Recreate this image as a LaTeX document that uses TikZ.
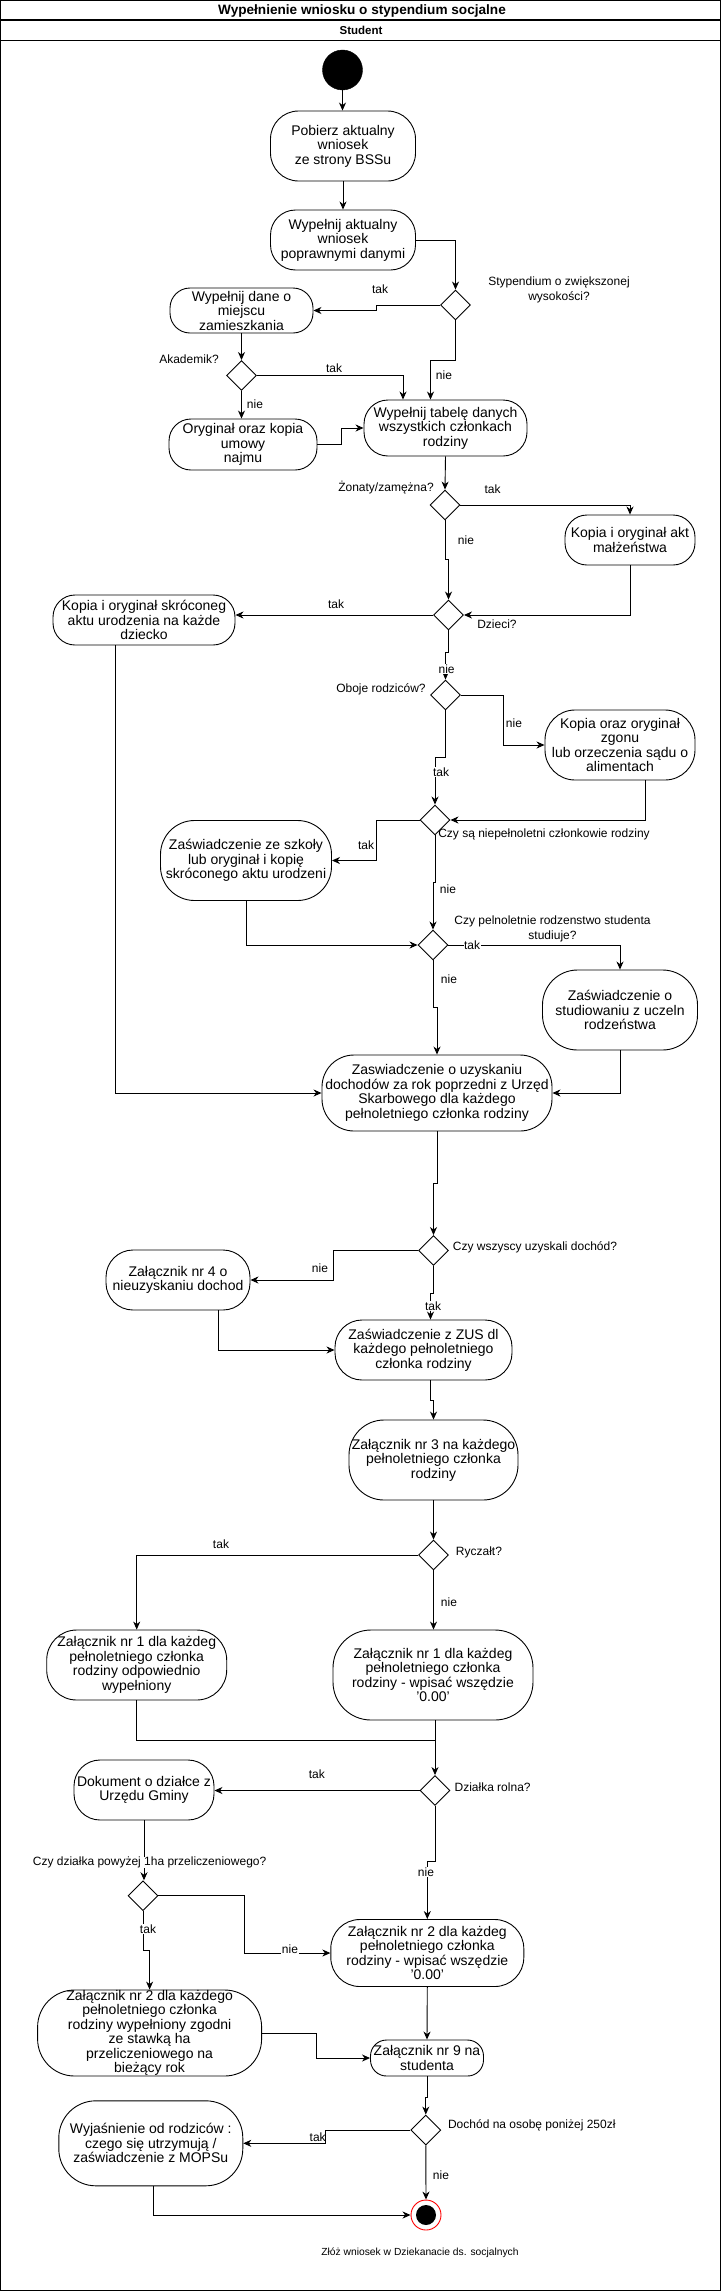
\documentclass[tikz,border=0pt]{standalone}
\usepackage{fontspec}
\setmainfont{Liberation Sans}
\usetikzlibrary{shapes.geometric,arrows.meta}
\begin{document}
\begin{tikzpicture}[x=1pt,y=-1pt,
  act/.style={draw, line width=0.9pt, align=center, inner sep=0pt, rounded corners=#1, font=\fontsize{14}{14.5}\selectfont},
  dec/.style={diamond, draw, line width=0.9pt, minimum width=30pt, minimum height=30pt, inner sep=0pt, aspect=1},
  flow/.style={draw, line width=0.9pt, rounded corners=0pt, -{Stealth[length=8pt,width=7pt,inset=2.5pt]}},
  seg/.style={draw, line width=0.9pt},
  lbl/.style={font=\fontsize{12}{15}\selectfont, inner sep=0.5pt, align=center},
  lblw/.style={lbl, fill=white},
  hdr/.style={font=\bfseries\fontsize{13.6}{15}\selectfont, inner sep=0pt}
]
\useasboundingbox (0,0) rectangle (722,2291);
\fill[white] (0,0) rectangle (722,2291);
% frame
\draw[line width=1.3pt] (0.65,0.65) rectangle (720.5,2290.3);
\draw[line width=1.1pt] (0.65,20) -- (720.5,20);
\draw[line width=1.1pt] (0.65,40.5) -- (720.5,40.5);
\node[hdr] (title) at (362,10.5) {Wypełnienie wniosku o stypendium socjalne};
\node[hdr, font=\bfseries\fontsize{11.5}{13}\selectfont] (lane) at (361,30.5) {Student};

% start / end
\node[circle, fill=black, draw=black, minimum size=40pt, inner sep=0pt] (start) at (342.5,70) {};
\node[circle, fill=white, draw=red, line width=0.9pt, minimum size=30pt, inner sep=0pt] (end) at (426,2215) {};
\node[circle, fill=black, minimum size=20pt, inner sep=0pt] (endin) at (426,2215) {};

% activities
\node[act=28pt, minimum width=145pt, minimum height=70pt] (n1) at (343,146) {Pobierz aktualny\\wniosek\\ze strony BSSu};
\node[act=25pt, minimum width=145pt, minimum height=60pt] (n2) at (343,240) {Wypełnij aktualny\\wniosek\\poprawnymi danymi};
\node[act=20pt, minimum width=143pt, minimum height=45pt] (n3) at (241.5,310.5) {Wypełnij dane o\\miejscu\\zamieszkania};
\node[act=22pt, minimum width=148pt, minimum height=51pt] (n4) at (243,444.5) {Oryginał oraz kopia\\umowy\\najmu};
\node[act=24pt, minimum width=163pt, minimum height=56pt] (n5) at (445.5,428) {Wypełnij tabelę danych\\wszystkich członkach\\rodziny};
\node[act=22pt, minimum width=130pt, minimum height=50pt] (n6) at (630,540) {Kopia i oryginał akt\\małżeństwa};
\node[act=22pt, minimum width=182pt, minimum height=50pt] (n7) at (144,620) {Kopia i oryginał skróconeg\\aktu urodzenia na każde\\dziecko};
\node[act=30pt, minimum width=150pt, minimum height=70pt] (n8) at (620,745) {Kopia oraz oryginał\\zgonu\\lub orzeczenia sądu o\\alimentach};
\node[act=34pt, minimum width=171pt, minimum height=80pt] (n9) at (246,860.5) {Zaświadczenie ze szkoły\\lub oryginał i kopię\\skróconego aktu urodzeni};
\node[act=35pt, minimum width=155pt, minimum height=80pt] (n10) at (620,1010) {Zaświadczenie o\\studiowaniu z uczeln\\rodzeństwa};
\node[act=32pt, minimum width=230pt, minimum height=76pt] (n11) at (437,1093) {Zaswiadczenie o uzyskaniu\\dochodów za rok poprzedni z Urzęd\\Skarbowego dla każdego\\pełnoletniego członka rodziny};
\node[act=27pt, minimum width=144pt, minimum height=60pt] (n12) at (178,1280) {Załącznik nr 4 o\\nieuzyskaniu dochod};
\node[act=27pt, minimum width=177pt, minimum height=60pt] (n13) at (423.5,1350) {Zaświadczenie z ZUS dl\\każdego pełnoletniego\\członka rodziny};
\node[act=35pt, minimum width=169pt, minimum height=80pt] (n14) at (433.5,1460) {Załącznik nr 3 na każdego\\pełnoletniego członka\\rodziny};
\node[act=30pt, minimum width=180pt, minimum height=70pt] (n15) at (136.7,1665) {Załącznik nr 1 dla każdeg\\pełnoletniego członka\\rodziny odpowiednio\\wypełniony};
\node[act=38pt, minimum width=200pt, minimum height=90pt] (n16) at (433,1675) {Załącznik nr 1 dla każdeg\\pełnoletniego członka\\rodziny - wpisać wszędzie\\'0.00'};
\node[act=26pt, minimum width=140pt, minimum height=60pt] (n17) at (144,1790) {Dokument o działce z\\Urzędu Gminy};
\node[act=29pt, minimum width=193pt, minimum height=67pt] (n18) at (427.3,1953) {Załącznik nr 2 dla każdeg\\pełnoletniego członka\\rodziny - wpisać wszędzie\\'0.00'};
\node[act=37pt, minimum width=224pt, minimum height=86pt] (n19) at (149.6,2033) {Załącznik nr 2 dla każdego\\pełnoletniego członka\\rodziny wypełniony zgodni\\ze stawką ha\\przeliczeniowego na\\bieżący rok};
\node[act=16pt, minimum width=113pt, minimum height=36pt] (n20) at (427,2058) {Załącznik nr 9 na\\studenta};
\node[act=37pt, minimum width=184pt, minimum height=85pt] (n21) at (150.8,2143.3) {Wyjaśnienie od rodziców :\\czego się utrzymują /\\zaświadczenie z MOPSu};

% decisions
\node[dec] (d1) at (455.5,305) {};
\node[dec] (d2) at (241.5,375.5) {};
\node[dec] (d3) at (445,505) {};
\node[dec] (d4) at (448.5,615) {};
\node[dec] (d5) at (445.5,695) {};
\node[dec] (d6) at (435,820) {};
\node[dec] (d7) at (433,945) {};
\node[dec] (d8) at (433.5,1250.5) {};
\node[dec] (d9) at (433.5,1555) {};
\node[dec] (d10) at (435,1790.5) {};
\node[dec] (d11) at (143,1895.7) {};
\node[dec] (d12) at (425.8,2130) {};

% connectors
\draw[flow] (start) -- (start.south |- n1.north);
\draw[flow] (n1) -- (n2);
\draw[flow] (n2.east) -| (d1.north);
\draw[flow] (d1.west) -- ++(-64,0) |- (n3.east);
\draw[flow] (d1.south) -- ++(0,40) -| ([xshift=-15pt]n5.north);
\draw[flow] (n3) -- (d2);
\draw[flow] (d2.east) -| ([xshift=-42.5pt]n5.north);
\draw[flow] (d2.south) -- (d2.south |- n4.north);
\draw[flow] (n4.east) -- ++(23.7,0) |- (n5.west);
\draw[flow] (n5.south) -- (d3.north);
\draw[flow] (d3.east) -| (n6.north);
\draw[flow] (d3.south) -- ++(0,39) -| (d4.north);
\draw[flow] (n6.south) |- (d4.east);
\draw[flow] (d4.west) -- (d4.west -| n7.east);
\draw[flow] ([xshift=-29pt]n7.south) |- (n11.west);
\draw[flow] (d4.south) -- ++(0,22) -| (d5.north);
\draw[flow] (d5.east) -- ++(42.6,0) |- (n8.west);
\draw[flow] (d5.south) -- ++(0,47.3) -| (d6.north);
\draw[flow] ([xshift=25.5pt]n8.south) |- (d6.east);
\draw[flow] (d6.west) -- ++(-43.4,0) |- (n9.east);
\draw[flow] (d6.south) -- ++(0,47) -| (d7.north);
\draw[flow] (n9.south) |- (d7.west);
\draw[flow] (d7.east) -| (n10.north);
\draw[flow] (d7.south) -- ++(0,47.3) -| (n11.north);
\draw[flow] (n10.south) |- (n11.east);
\draw[flow] (n11.south) -- ++(0,52) -| (d8.north);
\draw[flow] (d8.west) -- ++(-84.5,0) |- (n12.east);
\draw[flow] (d8.south) -- ++(0,27.5) -| ([xshift=7pt]n13.north);
\draw[flow] ([xshift=40pt]n12.south) |- (n13.west);
\draw[flow] ([xshift=7pt]n13.south) -- ++(0,20) -| (n14.north);
\draw[flow] (n14.south) -- (d9.north);
\draw[flow] (d9.west) -| (n15.north);
\draw[flow] (d9.south) -- (d9.south |- n16.north);
\draw[seg] (n15.south) -- ++(0,40) -| ([xshift=2pt]n16.south);
\draw[flow] ([xshift=2pt]n16.south) -- (d10.north);
\draw[flow] (d10.west) -- (d10.west -| n17.east);
\draw[flow] (n17.south) -- (n17.south |- d11.north);
\draw[flow] (d10.south) -- ++(0,55) -| (n18.north);
\draw[flow] (d11.east) -- ++(86,0) |- (n18.west);
\draw[flow] (d11.south) -- ++(0,39.3) -| (n19.north);
\draw[flow] (n19.east) -- ++(54.3,0) |- (n20.west);
\draw[flow] (n18.south) -- (n20.north);
\draw[flow] (n20.south) -- ++(0,20.7) -| (d12.north);
\draw[flow] (d12.west) -- ++(-85,0) |- (n21.east);
\draw[flow] (d12.south) -- (end.north);
\draw[flow] ([xshift=2.5pt]n21.south) |- (end.west);

% labels
\node[lbl] (l1) at (559,289.5) {Stypendium o zwiększonej\\wysokości?};
\node[lbl] (l2) at (380,289) {tak};
\node[lbl] (l3) at (444,375) {nie};
\node[lbl] (l4) at (189,359) {Akademik?};
\node[lbl] (l5) at (334,368) {tak};
\node[lbl] (l6) at (255,404) {nie};
\node[lbl] (l7) at (386,488) {Żonaty/zamężna?};
\node[lbl] (l8) at (492.6,489) {tak};
\node[lbl] (l9) at (466,540) {nie};
\node[lbl] (l10) at (336,604) {tak};
\node[lbl] (l11) at (497,624) {Dzieci?};
\node[lblw] (l12) at (446.6,669) {nie};
\node[lbl] (l13) at (381,689) {Oboje rodziców?};
\node[lbl] (l14) at (514,723) {nie};
\node[lblw] (l15) at (441,772) {tak};
\node[lbl] (l16) at (544,834) {Czy są niepełnoletni członkowie rodziny};
\node[lbl] (l17) at (366,845.7) {tak};
\node[lbl] (l18) at (448,889) {nie};
\node[lbl] (l19) at (552.5,929) {Czy pelnoletnie rodzenstwo studenta\\studiuje?};
\node[lblw] (l20) at (472,945) {tak};
\node[lbl] (l21) at (449,979) {nie};
\node[lbl] (l22) at (535,1247) {Czy wszyscy uzyskali dochód?};
\node[lbl] (l23) at (320,1268) {nie};
\node[lblw] (l24) at (433,1306) {tak};
\node[lbl] (l25) at (479,1552) {Ryczałt?};
\node[lbl] (l26) at (221,1544) {tak};
\node[lbl] (l27) at (449,1602) {nie};
\node[lbl] (l28) at (316.8,1774) {tak};
\node[lbl] (l29) at (492.6,1786.7) {Działka rolna?};
\node[lblw, inner sep=0pt] (l30) at (149.6,1862.7) {Czy działka powyżej 1ha przeliczeniowego?};
\node[lblw] (l31) at (426,1871.7) {nie};
\node[lblw] (l32) at (148,1929) {tak};
\node[lblw] (l33) at (290,1949) {nie};
\node[lbl] (l34) at (531.8,2125) {Dochód na osobę poniżej 250zł};
\node[lbl] (l35) at (317.7,2137) {tak};
\node[lbl] (l36) at (441,2175) {nie};
\node[lbl, font=\fontsize{10.3}{12}\selectfont] (l37) at (420,2252.3) {Złóż wniosek w Dziekanacie ds. socjalnych};
\end{tikzpicture}
\end{document}
